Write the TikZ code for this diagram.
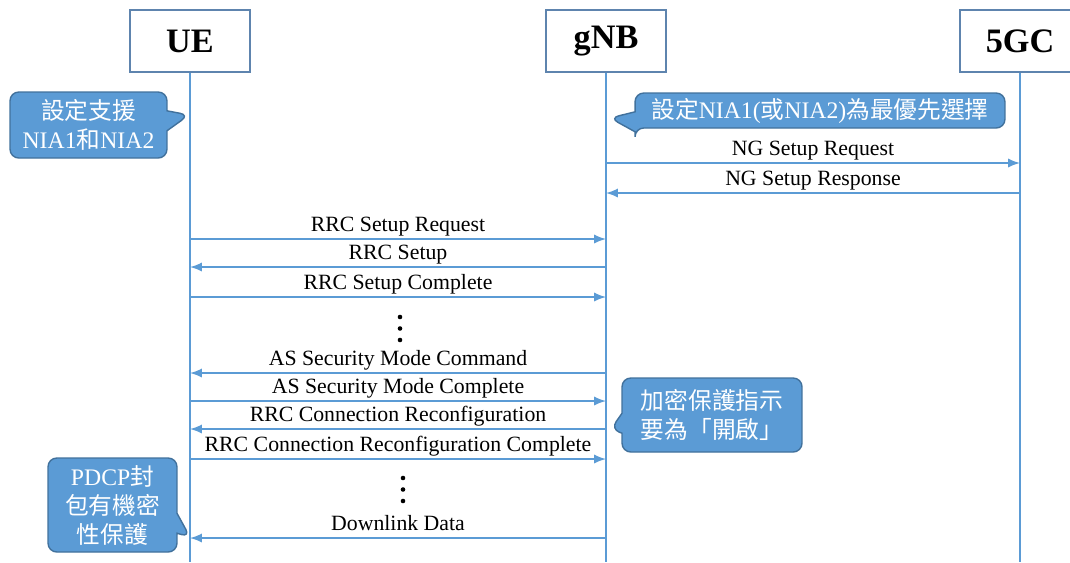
\documentclass[tikz,border=0pt]{standalone}
\usepackage{fontspec}
\setmainfont{Liberation Serif}
\newfontfamily\cjk{Noto Sans CJK TC}
\usepackage{xcolor}
\usetikzlibrary{arrows,positioning,shapes.callouts}
\definecolor{lineblue}{HTML}{5B9BD5}
\definecolor{edgeblue}{HTML}{41719C}
\definecolor{boxedge}{HTML}{5E84AE}
\tikzset{%
	entity/.style   = {draw=boxedge, line width=0.8pt, fill=white, rectangle, minimum width=2.4cm, minimum height=1.24cm, inner sep=0pt, font=\fontsize{19.5}{22}\selectfont\bfseries},
	lifeline/.style = {draw=lineblue, line width=1.2pt},
	msg/.style      = {draw=lineblue, line width=1.3pt, -latex},
	msglabel/.style = {anchor=base, yshift=4.5pt, inner sep=0pt, font=\fontsize{12.4}{14}\selectfont},
	note/.style     = {rectangle callout, rounded corners=5pt, fill=lineblue, draw=edgeblue, line width=0.8pt, text=white, align=center, inner sep=0pt, callout pointer width=0.4cm, font=\fontsize{13.5}{16.5}\selectfont},
}

\begin{document}
\begin{tikzpicture}[x=0.02cm,y=-0.02cm]
	\useasboundingbox (0,0) rectangle (1070,562);
	
	\node[entity] (ue) at (190,41) {UE};
	\node[entity] (gnb) at (606,41) {gNB};
	\node[entity] (core) at (1020,41) {5GC};
	
	\foreach \n in {ue,gnb,core} {
		\coordinate (\n-end) at (\n |- 0,562);
		\draw[lifeline] (\n) -- (\n-end);
	}
	
	\foreach \y/\a/\b/\txt in {163/gnb/core/NG Setup Request, 193/core/gnb/NG Setup Response, 239/ue/gnb/RRC Setup Request, 267/gnb/ue/RRC Setup, 297/ue/gnb/RRC Setup Complete, 373/gnb/ue/AS Security Mode Command, 401/ue/gnb/AS Security Mode Complete, 429/gnb/ue/RRC Connection Reconfiguration, 459/ue/gnb/RRC Connection Reconfiguration Complete, 538/gnb/ue/Downlink Data}
		\draw[msg] (\a |- 0,\y) -- node[msglabel] {\txt} (\b |- 0,\y);
	
	\foreach \x/\y in {400/317,403/478}
		\foreach \d in {0,1,2}
			\fill (\x,\y+\d*11.5) circle (1.3pt);
	
	\node[note, minimum width=3.14cm, minimum height=1.32cm, callout absolute pointer={(189,115)}] (support) at (88.5,125) {{\cjk 設定支援}\\NIA1{\cjk 和}NIA2};
	\node[note, minimum width=7.4cm, minimum height=0.7cm, callout absolute pointer={(610,118)}] (priority) at (820,110.5) {{\cjk 設定}NIA1({\cjk 或}NIA2){\cjk 為最優先選擇}};
	\node[note, minimum width=3.6cm, minimum height=1.48cm, callout absolute pointer={(611,429)}] (cipher) at (712,415) {{\cjk 加密保護指示}\\{\cjk 要為「開啟」}};
	\node[note, minimum width=2.58cm, minimum height=1.88cm, callout absolute pointer={(190,537)}] (pdcp) at (112.5,505) {PDCP{\cjk 封}\\{\cjk 包有機密}\\{\cjk 性保護}};
\end{tikzpicture}
\end{document}
